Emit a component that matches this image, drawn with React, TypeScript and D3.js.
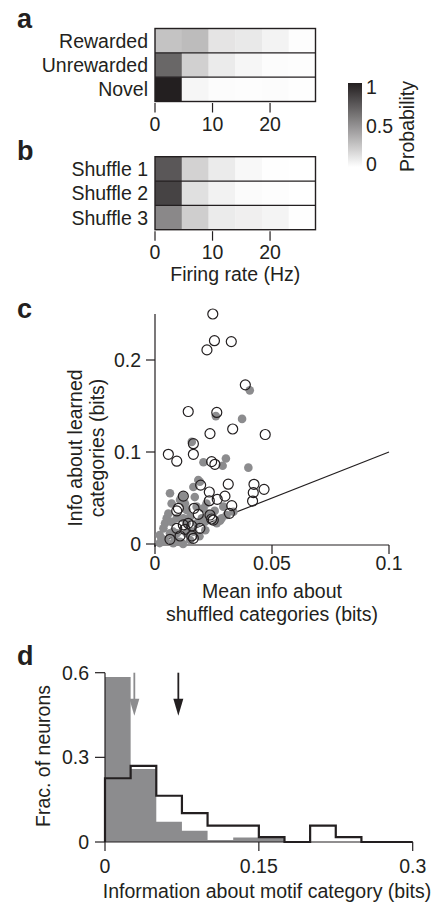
import React from 'react';
import * as d3 from 'd3';

// firing-rate bins (Hz) shared by panels a and b
const rateEdges = [0, 4.65, 9.3, 13.95, 18.6, 23.25, 27.9];
const rateTicks = [0, 10, 20];

const motifRows = ['Rewarded', 'Unrewarded', 'Novel'];
const motifProb = [
  [0.27, 0.3, 0.12, 0.1, 0.055, 0.01],
  [0.68, 0.21, 0.09, 0.04, 0.015, 0.01],
  [1.0, 0.04, 0.015, 0.01, 0.012, 0.005],
];

const shuffleRows = ['Shuffle 1', 'Shuffle 2', 'Shuffle 3'];
const shuffleProb = [
  [0.75, 0.2, 0.09, 0.03, 0.005, 0],
  [0.84, 0.14, 0.06, 0.02, 0.01, 0],
  [0.53, 0.22, 0.09, 0.07, 0.05, 0.005],
];

const probTicks = [0, 0.5, 1];

// panel c: [mean info shuffled, info learned]
const openPts: [number, number][] = [
  [0.0247, 0.25], [0.0254, 0.221], [0.0326, 0.22], [0.0222, 0.211], [0.0386, 0.173],
  [0.0142, 0.144], [0.0264, 0.143], [0.0235, 0.12], [0.0332, 0.125], [0.0471, 0.119],
  [0.0164, 0.109], [0.0057, 0.0975], [0.0093, 0.09], [0.0164, 0.0975], [0.0242, 0.0895],
  [0.0256, 0.0866], [0.0195, 0.064], [0.0313, 0.065], [0.0423, 0.0649], [0.0466, 0.0594],
  [0.042, 0.0558], [0.0232, 0.0565], [0.0121, 0.052], [0.0299, 0.052], [0.0232, 0.047],
  [0.0266, 0.0486], [0.0417, 0.0467], [0.0328, 0.0417], [0.01, 0.0388], [0.0093, 0.0359],
  [0.0167, 0.0388], [0.0185, 0.0322], [0.0235, 0.0315], [0.0318, 0.0333], [0.0242, 0.0272],
  [0.0249, 0.026], [0.0142, 0.0225], [0.0121, 0.0207], [0.0157, 0.0196], [0.0093, 0.017],
  [0.0128, 0.016], [0.0192, 0.017], [0.0107, 0.0087], [0.0157, 0.0087], [0.0164, 0.0062],
  [0.0064, 0.0051],
];
const greyPts: [number, number][] = [
  [0.0405, 0.167], [0.026, 0.139], [0.0372, 0.136], [0.0157, 0.111], [0.0303, 0.093],
  [0.0207, 0.0888], [0.0289, 0.0851], [0.0399, 0.083], [0.0185, 0.0696], [0.0064, 0.0551],
  [0.0121, 0.052], [0.005, 0.028], [0.0036, 0.017], [0.0078, 0.0134], [0.0028, 0.0062],
  [0.0078, 0.0008], [0.012, 0.0], [0.002, 0.001], [0.0057, 0.033], [0.0071, 0.044],
  [0.0107, 0.048], [0.0135, 0.037], [0.015, 0.0297], [0.0178, 0.0406], [0.0207, 0.0388],
  [0.02, 0.028], [0.0214, 0.0243], [0.0264, 0.0225], [0.0278, 0.0254], [0.0292, 0.0406],
  [0.022, 0.044], [0.0192, 0.0677], [0.0164, 0.062], [0.0114, 0.051], [0.0093, 0.0116],
  [0.0135, 0.0116], [0.015, 0.0043], [0.0107, 0.0025], [0.0064, 0.0116], [0.0043, 0.0225],
  [0.0071, 0.024], [0.0164, 0.0134], [0.0178, 0.0225], [0.0228, 0.033], [0.0306, 0.0315],
  [0.0285, 0.028], [0.0335, 0.035], [0.0128, 0.044], [0.0093, 0.028], [0.0121, 0.028],
  [0.002, 0.0098], [0.0045, 0.004], [0.0085, 0.0045], [0.019, 0.0085], [0.0215, 0.015],
  [0.0135, 0.0225], [0.0255, 0.036], [0.017, 0.051],
];
const cXTicks = [0, 0.05, 0.1];
const cYTicks = [0, 0.1, 0.2];

// panel d histograms
const histEdges = [0, 0.025, 0.05, 0.075, 0.1, 0.125, 0.15, 0.175, 0.2, 0.225, 0.25, 0.275, 0.3];
const learnedFrac = [0.226, 0.27, 0.164, 0.102, 0.058, 0.058, 0.017, 0, 0.058, 0.017, 0, 0];
const shuffledFrac = [0.585, 0.259, 0.072, 0.04, 0.007, 0.016, 0.014, 0, 0, 0, 0, 0];
const learnedMean = 0.0715;
const shuffledMean = 0.0286;
const dXTicks = [0, 0.15, 0.3];
const dYTicks = [0, 0.3, 0.6];

const INK = '#231f20';
const GREY = '#8c8c8e';
const FONT = '"Liberation Sans", Arial, Helvetica, sans-serif';
const FS = 19.5;

const probColor = d3.interpolateRgb('#ffffff', INK);

const rateX = d3.scaleLinear().domain([0, 27.9]).range([155, 315.5]);

function Heatmap({ rows, values, top, xlabel }: { rows: string[]; values: number[][]; top: number; xlabel?: string }) {
  const y = d3.scaleBand().domain(rows).range([top, top + 73]);
  const bottom = top + 73;
  return (
    <g>
      {rows.map((r, i) => (
        <g key={r}>
          {values[i].map((v, j) => (
            <rect key={j} x={rateX(rateEdges[j])} y={y(r)} width={rateX(rateEdges[j + 1]) - rateX(rateEdges[j]) + 0.3}
              height={y.bandwidth()} fill={probColor(v)} />
          ))}
          <text x={148} y={(y(r) as number) + y.bandwidth() / 2} dy="0.36em" textAnchor="end" fontSize={FS}>{r}</text>
        </g>
      ))}
      {rows.slice(1).map(r => (
        <line key={r} x1={rateX(0)} x2={rateX(27.9)} y1={y(r)} y2={y(r)} stroke={INK} strokeWidth={1.2} />
      ))}
      <rect x={rateX(0)} y={top} width={rateX(27.9) - rateX(0)} height={73} fill="none" stroke={INK} strokeWidth={1.4} />
      {rateTicks.map(t => (
        <g key={t}>
          <line x1={rateX(t)} x2={rateX(t)} y1={bottom + 1.5} y2={bottom + 11} stroke={INK} strokeWidth={1.2} />
          <text x={rateX(t)} y={bottom + 29} textAnchor="middle" fontSize={FS}>{t}</text>
        </g>
      ))}
      {xlabel && <text x={(rateX(0) + rateX(27.9)) / 2} y={bottom + 51} textAnchor="middle" fontSize={FS}>{xlabel}</text>}
    </g>
  );
}

function Colorbar() {
  const cy = d3.scaleLinear().domain([0, 1]).range([164, 87]);
  return (
    <g>
      <defs>
        <linearGradient id="probGrad" x1="0" y1="1" x2="0" y2="0">
          {d3.range(0, 1.01, 0.1).map(p => (
            <stop key={p} offset={p} stopColor={probColor(p)} />
          ))}
        </linearGradient>
      </defs>
      <rect x={348} y={83} width={14} height={84} fill="url(#probGrad)" />
      {probTicks.map(t => (
        <text key={t} x={366} y={cy(t)} dy="0.36em" fontSize={FS}>{t}</text>
      ))}
      <text transform="translate(414,126.5) rotate(-90)" textAnchor="middle" fontSize={FS}>Probability</text>
    </g>
  );
}

function Scatter() {
  const x = d3.scaleLinear().domain([0, 0.1]).range([155, 389]);
  const y = d3.scaleLinear().domain([0, 0.25]).range([544, 314]);
  const x0 = x(0), y0 = y(0) + 1;
  return (
    <g>
      <line x1={x0} x2={x0} y1={y(0.25)} y2={y0 + 2} stroke={INK} strokeWidth={1.2} />
      <line x1={x0 - 1} x2={x(0.1)} y1={y0} y2={y0} stroke={INK} strokeWidth={1.2} />
      {cYTicks.map(t => (
        <g key={t}>
          <line x1={x0 - 9} x2={x0} y1={y(t)} y2={y(t)} stroke={INK} strokeWidth={1.2} />
          <text x={x0 - 14} y={y(t)} dy="0.36em" textAnchor="end" fontSize={FS}>{t}</text>
        </g>
      ))}
      {cXTicks.map(t => (
        <g key={t}>
          <line x1={x(t)} x2={x(t)} y1={y0} y2={y0 + 9} stroke={INK} strokeWidth={1.2} />
          <text x={x(t)} y={570} textAnchor="middle" fontSize={FS}>{t}</text>
        </g>
      ))}
      <line x1={x(0)} y1={y(0)} x2={x(0.1)} y2={y(0.1)} stroke={INK} strokeWidth={1.2} />
      {greyPts.map((p, i) => (
        <circle key={'g' + i} cx={x(p[0])} cy={y(p[1])} r={4.3} fill={GREY} />
      ))}
      {openPts.map((p, i) => (
        <circle key={'o' + i} cx={x(p[0])} cy={y(p[1])} r={5} fill="none" stroke={INK} strokeWidth={1.2} />
      ))}
      <text transform="translate(82,448) rotate(-90)" textAnchor="middle" fontSize={FS}>Info about learned</text>
      <text transform="translate(104,448) rotate(-90)" textAnchor="middle" fontSize={FS}>categories (bits)</text>
      <text x={272} y={598} textAnchor="middle" fontSize={FS}>Mean info about</text>
      <text x={272} y={621} textAnchor="middle" fontSize={FS}>shuffled categories (bits)</text>
    </g>
  );
}

function Histogram() {
  const x = d3.scaleLinear().domain([0, 0.3]).range([105, 412.7]);
  const y = d3.scaleLinear().domain([0, 0.6]).range([842, 672.7]);
  const stepPts = (vals: number[]) => {
    const pts: [number, number][] = [[0, 0]];
    vals.forEach((v, i) => { pts.push([histEdges[i], v], [histEdges[i + 1], v]); });
    pts.push([histEdges[histEdges.length - 1], 0]);
    return pts;
  };
  const line = d3.line<[number, number]>().x(d => x(d[0])).y(d => y(d[1]));
  const arrow = (m: number, color: string) => {
    const ax = x(m), top = y(0.6), tip = y(0.447);
    return (
      <g>
        <line x1={ax} x2={ax} y1={top} y2={tip - 10} stroke={color} strokeWidth={1.8} />
        <path d={`M${ax - 5},${tip - 17}L${ax + 5},${tip - 17}L${ax},${tip}Z`} fill={color} />
      </g>
    );
  };
  return (
    <g>
      <path d={line(stepPts(shuffledFrac)) + 'Z'} fill={GREY} />
      <path d={line(stepPts(learnedFrac)) as string} fill="none" stroke={INK} strokeWidth={2.2} strokeLinejoin="miter" />
      <line x1={x(0)} x2={x(0)} y1={y(0.6)} y2={y(0)} stroke={INK} strokeWidth={1.2} />
      <line x1={x(0)} x2={x(0.3)} y1={y(0)} y2={y(0)} stroke={INK} strokeWidth={1.2} />
      {dYTicks.map(t => (
        <g key={t}>
          <line x1={x(0) - 10} x2={x(0)} y1={y(t)} y2={y(t)} stroke={INK} strokeWidth={1.2} />
          <text x={x(0) - 16} y={y(t)} dy="0.36em" textAnchor="end" fontSize={FS}>{t}</text>
        </g>
      ))}
      {dXTicks.map(t => (
        <g key={t}>
          <line x1={x(t)} x2={x(t)} y1={y(0)} y2={y(0) + 9} stroke={INK} strokeWidth={1.2} />
          <text x={x(t)} y={873} textAnchor="middle" fontSize={FS}>{t}</text>
        </g>
      ))}
      {arrow(shuffledMean, GREY)}
      {arrow(learnedMean, INK)}
      <text transform="translate(50,756) rotate(-90)" textAnchor="middle" fontSize={FS}>Frac. of neurons</text>
      <text x={267} y={898} textAnchor="middle" fontSize={FS}>Information about motif category (bits)</text>
    </g>
  );
}

export default function App() {
  return (
    <svg width={435} height={904} style={{ position: 'absolute', left: 0, top: 0, background: '#fff' }}
      fontFamily={FONT} fill={INK}>
      <rect width={435} height={904} fill="#fff" />
      <text x={17} y={28} fontSize={27} fontWeight="bold">a</text>
      <text x={17} y={160} fontSize={27} fontWeight="bold">b</text>
      <text x={17} y={318} fontSize={27} fontWeight="bold">c</text>
      <text x={17} y={665} fontSize={27} fontWeight="bold">d</text>
      <Heatmap rows={motifRows} values={motifProb} top={28.5} />
      <Heatmap rows={shuffleRows} values={shuffleProb} top={156.7} xlabel="Firing rate (Hz)" />
      <Colorbar />
      <Scatter />
      <Histogram />
    </svg>
  );
}
